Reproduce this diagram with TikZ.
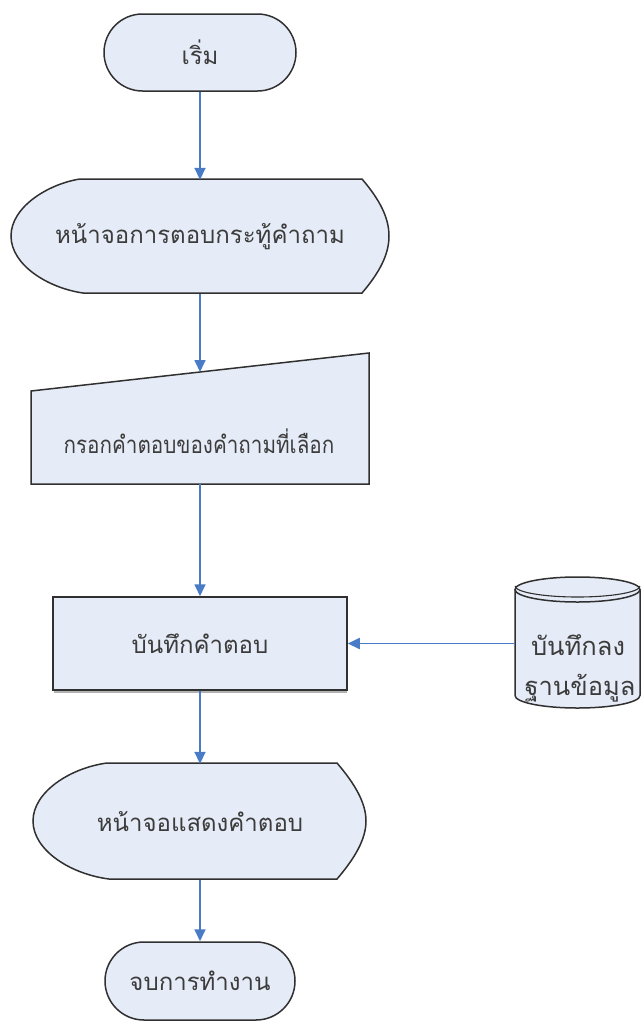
\documentclass[tikz,border=0pt]{standalone}
\usepackage{fontspec}
\usetikzlibrary{arrows.meta}
\newfontfamily\thaifont[Script=Thai]{Loma}
\newfontfamily\thaicond[Script=Thai,FakeStretch=0.86]{Loma}
\definecolor{fillcol}{HTML}{E6ECF7}
\definecolor{bordercol}{HTML}{303030}
\definecolor{arrowcol}{HTML}{4A7BC6}
\definecolor{textcol}{HTML}{3C3C3C}
\begin{document}
\begin{tikzpicture}[x=1pt,y=-1pt,
  shapeline/.style={draw=bordercol, line width=1.5pt, fill=fillcol},
  box/.style={shapeline, inner sep=0pt, font=\thaifont\fontsize{24}{28}\selectfont, text=textcol},
  lbl/.style={inner sep=0pt, font=\thaifont\fontsize{24}{28}\selectfont, text=textcol},
  flow/.style={draw=arrowcol, line width=1.7pt, -{Triangle[length=12pt,width=11pt]}}]
\useasboundingbox (0,0) rectangle (643,1023);
\fill[white] (0,0) rectangle (643,1023);

% start terminal
\node[box, minimum width=192pt, minimum height=77pt, rounded corners=38.5pt] (start) at (200,52.5) {เริ่ม};

% display 1
\draw[shapeline] (80,179) -- (362,179) .. controls (380,200) and (389,218) .. (389,236)
  .. controls (389,254) and (380,272) .. (362,293) -- (83,293)
  .. controls (48,288) and (11,265) .. (11,236)
  .. controls (11,207) and (48,184) .. (80,179) -- cycle;
\node[lbl, minimum height=114pt] (disp1) at (200,237) {หน้าจอการตอบกระทู้คำถาม};

% manual input
\draw[shapeline] (31,391) -- (369,353) -- (369,484) -- (31,484) -- cycle;
\node[lbl, font=\thaicond\fontsize{24}{28}\selectfont] (inp) at (199,441) {กรอกคำตอบของคำถามที่เลือก};
\coordinate (inpTop) at (200,372);
\coordinate (inpBot) at (200,484);

% process
\draw[gray!60, line width=2.5pt] (54,692) -- (347,692);
\node[box, minimum width=294pt, minimum height=93pt] (save) at (200,643.5) {บันทึกคำตอบ};

% database
\fill[fillcol] (515,589.5) -- (515,695.5) arc[start angle=180, end angle=0, x radius=62.5, y radius=12.5] -- (640,589.5) -- cycle;
\draw[draw=bordercol, line width=1.5pt] (515,589.5) -- (515,695.5) arc[start angle=180, end angle=0, x radius=62.5, y radius=12.5] -- (640,589.5);
\draw[shapeline] (577.5,589.5) ellipse [x radius=62.5, y radius=12.5];
\draw[draw=bordercol, line width=1.1pt] (515,586) arc[start angle=180, end angle=0, x radius=62.5, y radius=11];
\node[minimum width=125pt, minimum height=131pt, inner sep=0pt] (db) at (577.5,643.5) {};
\node[lbl, font=\thaifont\fontsize{25.5}{30}\selectfont] (dbt1) at (578,645) {บันทึกลง};
\node[lbl, font=\thaifont\fontsize{25.5}{30}\selectfont] (dbt2) at (580,688) {ฐานข้อมูล};

% display 2
\draw[shapeline] (107,763) -- (337,763) .. controls (355,784) and (366,803) .. (366,821)
  .. controls (366,839) and (355,858) .. (337,879) -- (109,879)
  .. controls (70,874) and (33,850) .. (33,821)
  .. controls (33,792) and (70,768) .. (107,763) -- cycle;
\node[lbl, minimum height=116pt] (disp2) at (200,822) {หน้าจอแสดงคำตอบ};

% end terminal
\node[box, minimum width=190pt, minimum height=78pt, rounded corners=39pt] (finish) at (200,981) {จบการทำงาน};

% connectors
\draw[flow] (start.south) -- (disp1.north);
\draw[flow] (disp1.south) -- (inpTop);
\draw[flow] (inpBot) -- (save.north);
\draw[flow] (db.west) -- (save.east);
\draw[flow] (save.south) -- (disp2.north);
\draw[flow] (disp2.south) -- (finish.north);
\end{tikzpicture}
\end{document}
